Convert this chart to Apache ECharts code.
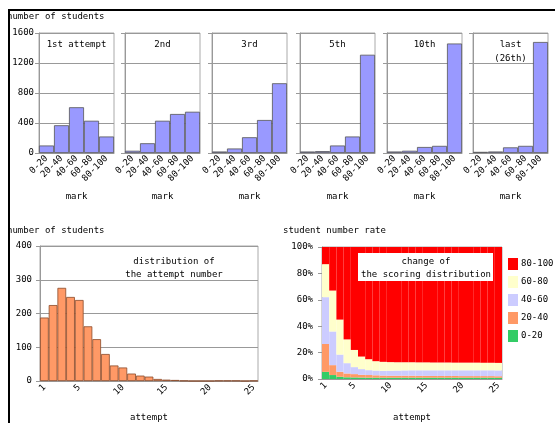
<!DOCTYPE html>
<html>
<head>
<meta charset="utf-8">
<script src="https://cdn.jsdelivr.net/npm/echarts@6/dist/echarts.min.js"></script>
<style>
  html, body { margin: 0; padding: 0; background: #fff; }
  #chart { width: 555px; height: 423px; }
</style>
</head>
<body>
<div id="chart"></div>
<script>
// Score distribution per attempt (top panels)
const marks = ['0-20', '20-40', '40-60', '60-80', '80-100'];
const attempt1 = [100, 370, 610, 430, 220];
const attempt2 = [30, 130, 430, 520, 550];
const attempt3 = [20, 60, 210, 440, 930];
const attempt5 = [20, 25, 100, 220, 1310];
const attempt10 = [20, 30, 80, 95, 1460];
const attemptLast = [15, 20, 75, 95, 1480];
const panelTitles = ['1st attempt', '2nd', '3rd', '5th', '10th', 'last\n(26th)'];

// Distribution of the attempt number (bottom left)
const attempts = ['1', '2', '3', '4', '5', '6', '7', '8', '9', '10', '11', '12', '13',
  '14', '15', '16', '17', '18', '19', '20', '21', '22', '23', '24', '25'];
const attemptCounts = [188, 225, 276, 249, 240, 162, 124, 80, 46, 40, 22, 16, 13,
  6, 4, 3, 1, 0, 0, 0, 1, 1, 1, 0, 1];
const shownAttempts = ['1', '5', '10', '15', '20', '25'];

// Change of the scoring distribution, percent (bottom right)
const rate0to20 = [5.4, 3.0, 1.7, 1.3, 1.2, 1.1, 1.0, 1.0, 1.0, 1.0, 1.0, 1.0, 1.0,
  1.0, 1.0, 1.0, 1.0, 1.0, 1.0, 1.0, 1.0, 1.0, 1.0, 1.0, 0.9];
const rate20to40 = [21.1, 7.5, 3.8, 2.9, 2.5, 2.1, 2.0, 1.8, 1.6, 1.5, 1.5, 1.5, 1.5,
  1.4, 1.4, 1.3, 1.3, 1.3, 1.3, 1.2, 1.2, 1.2, 1.2, 1.2, 1.2];
const rate40to60 = [35.5, 25.5, 13.0, 7.8, 5.3, 4.3, 3.7, 3.6, 3.6, 3.8, 3.9, 4.0, 4.1,
  4.2, 4.2, 4.3, 4.3, 4.3, 4.3, 4.4, 4.4, 4.4, 4.4, 4.4, 4.4];
const rate60to80 = [25.0, 31.0, 26.5, 18.0, 13.0, 9.5, 8.3, 7.1, 6.8, 6.5, 6.3, 6.2, 6.1,
  6.0, 6.0, 5.9, 5.9, 5.9, 5.8, 5.8, 5.8, 5.8, 5.7, 5.7, 5.7];
const rate80to100 = [13.0, 33.0, 55.0, 70.0, 78.0, 83.0, 85.0, 86.5, 87.0, 87.2, 87.3, 87.3, 87.3,
  87.4, 87.4, 87.5, 87.5, 87.5, 87.6, 87.6, 87.6, 87.6, 87.7, 87.7, 87.8];
const rateNames = ['0-20', '20-40', '40-60', '60-80', '80-100'];
const rateColors = ['#33cc66', '#ff9966', '#ccccff', '#ffffcc', '#ff0000'];

const FONT = 'DejaVu Sans Mono';
const chart = echarts.init(document.getElementById('chart'));

const panelData = [attempt1, attempt2, attempt3, attempt5, attempt10, attemptLast];
const panelLeft = [39, 125, 212, 300, 387, 473];
const panelWidth = 75;

const grids = [];
const xAxes = [];
const yAxes = [];
const series = [];
const graphics = [];

const axisText = { color: '#000', fontFamily: FONT, fontSize: 9 };
const grayLine = { lineStyle: { color: '#999', width: 1 } };

// centred text helper for the graphic layer
function label(text, x, y, z) {
    return {
        type: 'text', x: x, y: y, z: z || 10,
        style: { text: text, textAlign: 'center', textVerticalAlign: 'top',
            font: '9px "' + FONT + '"', fill: '#000', lineHeight: 13 }
    };
}

// Top small panels
panelData.forEach((vals, i) => {
    grids.push({ left: panelLeft[i], top: 33, width: panelWidth, height: 120,
        show: true, borderColor: '#aaa', borderWidth: 1 });
    xAxes.push({
        type: 'category', gridIndex: i, data: marks,
        name: 'mark', nameLocation: 'middle', nameGap: 39,
        nameTextStyle: axisText,
        axisLine: grayLine, axisTick: { length: 4, lineStyle: { color: '#999' } },
        axisLabel: Object.assign({ rotate: 45, interval: 0, margin: 4 }, axisText)
    });
    yAxes.push({
        type: 'value', gridIndex: i, min: 0, max: 1600, interval: 400,
        axisLine: { show: true, lineStyle: { color: '#999' } },
        axisTick: { show: true, length: 4, lineStyle: { color: '#999' } },
        splitLine: { lineStyle: { color: '#999' } },
        axisLabel: Object.assign({ show: i === 0, margin: 5, formatter: v => String(v) }, axisText)
    });
    series.push({
        type: 'bar', xAxisIndex: i, yAxisIndex: i, data: vals,
        barCategoryGap: '0%',
        itemStyle: { color: '#9999ff', borderColor: '#555', borderWidth: 0.8 }
    });
    const t = label(panelTitles[i], panelLeft[i] + panelWidth / 2, 38);
    t.style.lineHeight = 14;
    graphics.push(t);
});

// Bottom left histogram
grids.push({ left: 40, top: 246, width: 218, height: 138, show: true, borderColor: '#aaa' });
xAxes.push({
    type: 'category', gridIndex: 6, data: attempts,
    name: 'attempt', nameLocation: 'middle', nameGap: 32, nameTextStyle: axisText,
    axisLine: grayLine, axisTick: { length: 4, interval: 0, lineStyle: { color: '#999' } },
    axisLabel: Object.assign({ rotate: 45, interval: 0, margin: 5,
        formatter: v => shownAttempts.includes(v) ? v : '' }, axisText)
});
yAxes.push({
    type: 'value', gridIndex: 6, min: 0, max: 400, interval: 100,
    axisLine: { show: true, lineStyle: { color: '#999' } },
    axisTick: { show: true, length: 4, lineStyle: { color: '#999' } },
    splitLine: { lineStyle: { color: '#999' } },
    axisLabel: Object.assign({ margin: 8 }, axisText)
});
series.push({
    type: 'bar', xAxisIndex: 6, yAxisIndex: 6, data: attemptCounts,
    barCategoryGap: '0%',
    itemStyle: { color: '#ff9966', borderColor: '#8a4a2a', borderWidth: 0.8 }
});

// Bottom right stacked rate chart
grids.push({ left: 322, top: 247, width: 180, height: 135, show: true, borderColor: '#aaa' });
xAxes.push({
    type: 'category', gridIndex: 7, data: attempts,
    name: 'attempt', nameLocation: 'middle', nameGap: 34, nameTextStyle: axisText,
    axisLine: grayLine, axisTick: { length: 4, interval: 0, lineStyle: { color: '#999' } },
    axisLabel: Object.assign({ rotate: 45, interval: 0, margin: 5,
        formatter: v => shownAttempts.includes(v) ? v : '' }, axisText)
});
yAxes.push({
    type: 'value', gridIndex: 7, min: 0, max: 100, interval: 20,
    axisLine: { show: true, lineStyle: { color: '#999' } },
    axisTick: { show: true, length: 4, lineStyle: { color: '#999' } },
    splitLine: { show: false },
    axisLabel: Object.assign({ margin: 9, formatter: '{value}%' }, axisText)
});
[rate0to20, rate20to40, rate40to60, rate60to80, rate80to100].forEach((vals, k) => {
    series.push({
        name: rateNames[k], type: 'bar', xAxisIndex: 7, yAxisIndex: 7, stack: 'rate',
        data: vals, barCategoryGap: '0%',
        itemStyle: { color: rateColors[k] }
    });
});

// Free texts, box and the black frame
graphics.push(
    { type: 'text', left: 7, top: 12,
      style: { text: 'number of students', font: '9px "' + FONT + '"', fill: '#000' } },
    { type: 'text', left: 7, top: 226,
      style: { text: 'number of students', font: '9px "' + FONT + '"', fill: '#000' } },
    { type: 'text', left: 283, top: 226,
      style: { text: 'student number rate', font: '9px "' + FONT + '"', fill: '#000' } },
    label('distribution of\nthe attempt number', 174, 255),
    { type: 'rect', shape: { x: 358, y: 253, width: 135, height: 28 },
      style: { fill: '#fff' }, z: 50 },
    label('change of\nthe scoring distribution', 426, 255, 51),
    { type: 'rect', shape: { x: 0, y: 0, width: 8, height: 423 }, style: { fill: '#fff' }, z: 90 },
    { type: 'rect', shape: { x: 0, y: 0, width: 555, height: 9 }, style: { fill: '#fff' }, z: 90 },
    { type: 'rect', shape: { x: 8, y: 9, width: 547, height: 2 }, style: { fill: '#000' }, z: 100 },
    { type: 'rect', shape: { x: 8, y: 9, width: 2, height: 414 }, style: { fill: '#000' }, z: 100 }
);

chart.setOption({
    animation: false,
    backgroundColor: '#fff',
    textStyle: { fontFamily: FONT },
    legend: {
        data: ['80-100', '60-80', '40-60', '20-40', '0-20'],
        orient: 'vertical', left: 503, top: 253,
        itemWidth: 10, itemHeight: 12, itemGap: 6, icon: 'rect',
        textStyle: { color: '#000', fontFamily: FONT, fontSize: 9, padding: [0, 0, 0, -2] }
    },
    grid: grids,
    xAxis: xAxes,
    yAxis: yAxes,
    series: series,
    graphic: graphics
});
</script>
</body>
</html>
